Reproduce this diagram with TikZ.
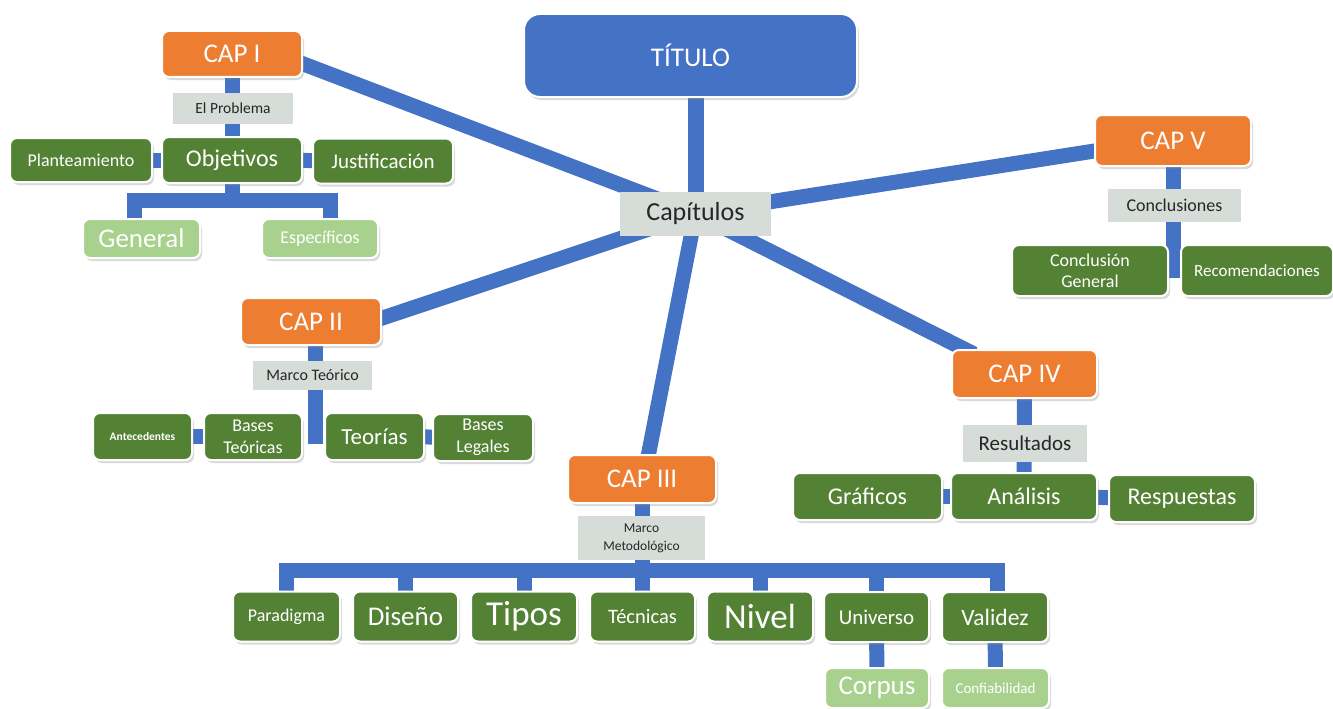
\documentclass[tikz,border=0pt]{standalone}
\usepackage{fontspec}
\setmainfont{Carlito}
\usepackage{tikz}
\usetikzlibrary{shadows,backgrounds}

\definecolor{capOrange}{HTML}{ED7D31}
\definecolor{mapBlue}{HTML}{4472C4}
\definecolor{darkGreen}{HTML}{548235}
\definecolor{lightGreen}{HTML}{A9D18E}
\definecolor{labelGray}{HTML}{D6DCD8}
\newcommand{\fsz}[2]{\fontsize{#1}{#2}\selectfont}

\begin{document}
\begin{tikzpicture}[x=1pt,y=-1pt]
  \tikzset{BoxStyle/.style = {
    shape           = rectangle,
    rounded corners = 7pt,
    draw            = white,
    line width      = 2pt,
    text            = white,
    inner sep       = 0pt,
    align           = center,
    drop shadow     = {shadow xshift=2pt, shadow yshift=-3pt, opacity=0.3}
    }
  }
  \tikzset{TitleStyle/.style = {
    BoxStyle,
    fill            = mapBlue,
    rounded corners = 16pt,
    minimum width   = 333pt,
    minimum height  = 83pt,
    font            = \fsz{27}{32}
    }
  }
  \tikzset{CapStyle/.style = {
    BoxStyle,
    fill            = capOrange,
    minimum width   = 140pt,
    minimum height  = 46pt,
    font            = \fsz{27}{32}
    }
  }
  \tikzset{ItemStyle/.style = {
    BoxStyle,
    fill            = darkGreen
    }
  }
  \tikzset{SubItemStyle/.style = {
    BoxStyle,
    fill            = lightGreen
    }
  }
  \tikzset{LabelStyle/.style = {
    shape           = rectangle,
    fill            = labelGray,
    text            = black!85,
    inner sep       = 0pt,
    align           = center
    }
  }
  \tikzset{EdgeStyle/.style = {
    draw            = mapBlue,
    line width      = 15pt
    }
  }

  \useasboundingbox (0,0) rectangle (1333,709);

  % centre
  \node[TitleStyle](Titulo) at (690.5,55.5) {TÍTULO};
  \node[LabelStyle, minimum width=151pt, minimum height=44pt, font=\fsz{26}{30}](Capitulos) at (695.5,213.5) {Capítulos};

  % CAP I
  \node[CapStyle](Cap1) at (232,54) {CAP I};
  \node[LabelStyle, minimum width=120pt, minimum height=31pt, font=\fsz{15.5}{18}](Problema) at (233,108.5) {El Problema};
  \node[ItemStyle, minimum width=140pt, minimum height=46pt, font=\fsz{24}{28}](Objetivos) at (232,160) {Objetivos};
  \node[ItemStyle, minimum width=142pt, minimum height=44pt, font=\fsz{18}{22}](Planteamiento) at (81,160) {Planteamiento};
  \node[ItemStyle, minimum width=140pt, minimum height=45pt, font=\fsz{21}{25}](Justificacion) at (383,161) {Justificación};
  \node[SubItemStyle, minimum width=117pt, minimum height=39pt, font=\fsz{27}{32}](General) at (141.5,238.5) {General};
  \node[SubItemStyle, minimum width=116pt, minimum height=39pt, font=\fsz{18}{22}](Especificos) at (320,238.5) {Específicos};

  % CAP II
  \node[CapStyle, minimum height=47pt](Cap2) at (311,321.5) {CAP II};
  \node[LabelStyle, minimum width=119pt, minimum height=29pt, font=\fsz{16}{19}](MarcoT) at (312.5,375.5) {Marco Teórico};
  \node[ItemStyle, minimum width=99pt, minimum height=47pt, font=\fsz{11.5}{14}\bfseries](Antecedentes) at (142.5,436.5) {Antecedentes};
  \node[ItemStyle, minimum width=98pt, minimum height=47pt, font=\fsz{18}{22}](BasesT) at (253,436.5) {Bases\\Teóricas};
  \node[ItemStyle, minimum width=99pt, minimum height=47pt, font=\fsz{23}{27}](Teorias) at (374.5,436.5) {Teorías};
  \node[ItemStyle, minimum width=100pt, minimum height=47pt, font=\fsz{18}{22}](BasesL) at (483,437.5) {Bases\\Legales};

  % CAP III
  \node[CapStyle, minimum width=148pt, minimum height=48pt](Cap3) at (642,479) {CAP III};
  \node[LabelStyle, minimum width=127pt, minimum height=44pt, font=\fsz{13.5}{18}](MarcoM) at (641.5,538) {Marco\\Metodológico};
  \node[ItemStyle, minimum width=107pt, minimum height=50pt, font=\fsz{18}{22}](Paradigma) at (286.5,616.5) {Paradigma};
  \node[ItemStyle, minimum width=105pt, minimum height=50pt, font=\fsz{27}{32}](Diseno) at (405.5,616.5) {Diseño};
  \node[ItemStyle, minimum width=106pt, minimum height=50pt, font=\fsz{35}{40}](Tipos) at (524,616.5) {Tipos};
  \node[ItemStyle, minimum width=105pt, minimum height=50pt, font=\fsz{20.5}{24}](Tecnicas) at (642.5,616.5) {Técnicas};
  \node[ItemStyle, minimum width=106pt, minimum height=50pt, font=\fsz{35}{40}](Nivel) at (760,616.5) {Nivel};
  \node[ItemStyle, minimum width=105pt, minimum height=50pt, font=\fsz{21}{25}](Universo) at (876.5,617) {Universo};
  \node[ItemStyle, minimum width=106pt, minimum height=50pt, font=\fsz{23.5}{28}](Validez) at (995,617) {Validez};
  \node[SubItemStyle, minimum width=104pt, minimum height=40pt, font=\fsz{27}{32}](Corpus) at (877,688) {Corpus};
  \node[SubItemStyle, minimum width=107pt, minimum height=40pt, font=\fsz{15}{18}](Confiabilidad) at (995.5,688) {Confiabilidad};

  % CAP IV
  \node[CapStyle, minimum width=145pt, minimum height=48pt](Cap4) at (1024.5,374) {CAP IV};
  \node[LabelStyle, minimum width=124pt, minimum height=37pt, font=\fsz{21}{25}](Resultados) at (1025,443.5) {Resultados};
  \node[ItemStyle, minimum width=149pt, minimum height=47pt, font=\fsz{24}{28}](Graficos) at (867.5,496.5) {Gráficos};
  \node[ItemStyle, minimum width=146pt, minimum height=47pt, font=\fsz{24}{28}](Analisis) at (1024,496.5) {Análisis};
  \node[ItemStyle, minimum width=146pt, minimum height=47pt, font=\fsz{24}{28}](Respuestas) at (1182,498.5) {Respuestas};

  % CAP V
  \node[CapStyle, minimum width=156pt, minimum height=51pt](Cap5) at (1173,140.5) {CAP V};
  \node[LabelStyle, minimum width=133pt, minimum height=33pt, font=\fsz{18}{22}](Conclusiones) at (1174.5,205.5) {Conclusiones};
  \node[ItemStyle, minimum width=156pt, minimum height=51pt, font=\fsz{18}{21}](ConclG) at (1090,270.5) {Conclusión\\General};
  \node[ItemStyle, minimum width=152pt, minimum height=51pt, font=\fsz{17}{20}](Recomendaciones) at (1257,270.5) {Recomendaciones};

  \coordinate (ObjL) at (134,200.5);
  \coordinate (ObjR) at (330,200.5);
  \coordinate (Barra) at (642,570);

  \begin{scope}[on background layer]
    % radial links
    \draw[EdgeStyle, line width=16pt](Titulo.south -| Capitulos) to (Capitulos.center);
    \draw[EdgeStyle](Capitulos.center) to ([shift={(-10pt,-6pt)}]Cap1.east);
    \draw[EdgeStyle](Capitulos.center) to ([xshift=-10pt]Cap2.east);
    \draw[EdgeStyle](Capitulos.center) to ([shift={(5pt,-8pt)}]Cap3.north);
    \draw[EdgeStyle](Capitulos.center) to ([shift={(23pt,-5pt)}]Cap4.north west);
    \draw[EdgeStyle](Capitulos.center) to ([shift={(10pt,-9pt)}]Cap5.west);

    % CAP I
    \draw[EdgeStyle](Cap1.south) to (Objetivos.north);
    \draw[EdgeStyle](Planteamiento) to (Objetivos);
    \draw[EdgeStyle](Objetivos) to (Justificacion);
    \draw[EdgeStyle](Objetivos.south) to (Objetivos.south |- ObjL);
    \draw[EdgeStyle](General.north -| ObjL) -- (ObjL) -- (ObjR) -- (Especificos.north -| ObjR);

    % CAP II
    \draw[EdgeStyle]([xshift=4pt]Cap2.south) -- ++(0,98);
    \draw[EdgeStyle](Antecedentes) to (BasesT);
    \draw[EdgeStyle](Teorias) to (BasesL);

    % CAP III
    \draw[EdgeStyle](Cap3.south) to (Cap3.south |- Barra);
    \draw[EdgeStyle](Paradigma.north) -- (Paradigma.north |- Barra) -- ([xshift=2pt]Validez.north |- Barra) -- ([xshift=2pt]Validez.north);
    \foreach \n in {Diseno,Tipos,Tecnicas,Nivel,Universo}
      \draw[EdgeStyle](\n.north) -- (\n.north |- Barra);
    \draw[EdgeStyle](Universo) to (Corpus);
    \draw[EdgeStyle](Validez) to (Confiabilidad);

    % CAP IV
    \draw[EdgeStyle](Cap4.south) to (Analisis.north);
    \draw[EdgeStyle](Graficos) to (Analisis);
    \draw[EdgeStyle](Analisis) to (Respuestas);

    % CAP V
    \draw[EdgeStyle](Cap5.south) -- ++(0,111);
  \end{scope}

\end{tikzpicture}
\end{document}
